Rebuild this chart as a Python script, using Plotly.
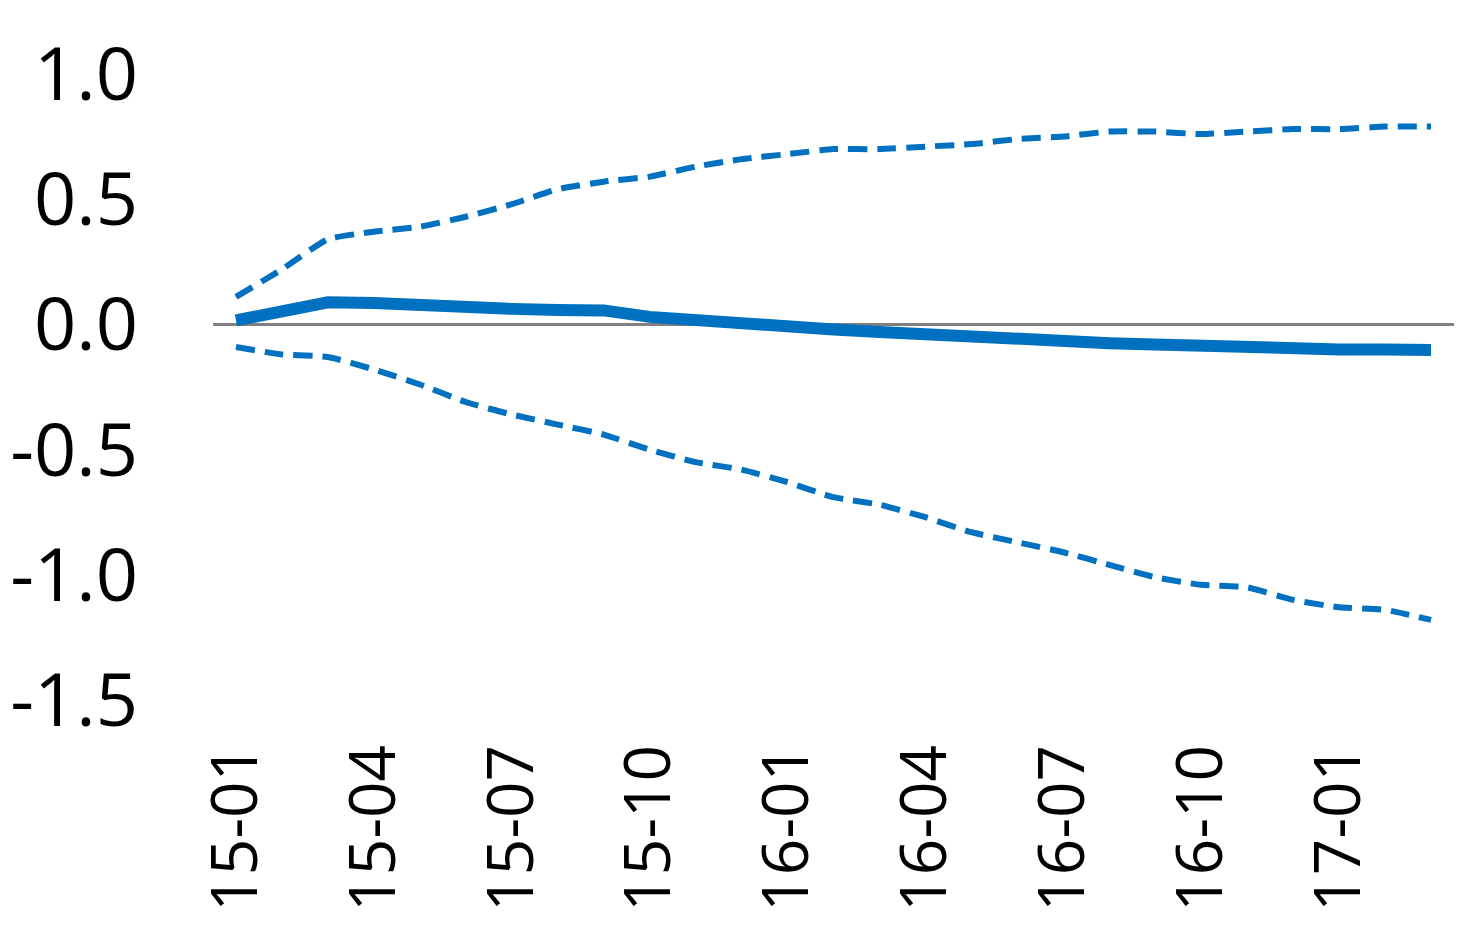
import plotly.graph_objects as go

# --- data ---
months = [
    "15-01", "15-02", "15-03", "15-04", "15-05", "15-06", "15-07", "15-08", "15-09",
    "15-10", "15-11", "15-12", "16-01", "16-02", "16-03", "16-04", "16-05", "16-06",
    "16-07", "16-08", "16-09", "16-10", "16-11", "16-12", "17-01", "17-02", "17-03",
]
central = [
    0.016, 0.052, 0.088, 0.085, 0.075, 0.060, 0.062, 0.058, 0.056,
    0.030, 0.015, 0.000, -0.012, -0.020, -0.030, -0.040, -0.050, -0.064,
    -0.070, -0.075, -0.080, -0.087, -0.093, -0.098, -0.100, -0.100, -0.102,
]
upper = [
    0.11, 0.22, 0.34, 0.37, 0.39, 0.43, 0.48, 0.54, 0.57,
    0.59, 0.63, 0.66, 0.68, 0.70, 0.70, 0.71, 0.72, 0.74,
    0.75, 0.77, 0.77, 0.76, 0.77, 0.78, 0.78, 0.79, 0.79,
]
lower = [
    -0.09, -0.12, -0.13, -0.18, -0.24, -0.31, -0.36, -0.40, -0.44,
    -0.50, -0.55, -0.58, -0.63, -0.69, -0.72, -0.77, -0.83, -0.87,
    -0.91, -0.96, -1.01, -1.04, -1.05, -1.10, -1.13, -1.14, -1.18,
]
tick_months = ["15-01", "15-04", "15-07", "15-10", "16-01", "16-04", "16-07", "16-10", "17-01"]
y_ticks = [1.0, 0.5, 0.0, -0.5, -1.0, -1.5]

BLUE = "#0070C0"
FONT = "Open Sans"

fig = go.Figure()

for band in (upper, lower):
    fig.add_trace(go.Scatter(
        x=months, y=band, mode="lines",
        line=dict(color=BLUE, width=6, dash="19px,10px", shape="spline", smoothing=0.5),
        showlegend=False, hoverinfo="skip",
    ))

fig.add_trace(go.Scatter(
    x=months, y=central, mode="lines",
    line=dict(color=BLUE, width=12),
    showlegend=False,
))

# page body adds an 8px margin, so the figure is 8px smaller and margins shifted
fig.update_layout(
    width=1474, height=940,
    margin=dict(l=205, r=28, t=66, b=248),
    paper_bgcolor="white", plot_bgcolor="white",
    font=dict(family=FONT, color="black"),
)

fig.update_xaxes(
    type="category", range=[-0.5, len(months) - 0.5],
    tickmode="array", tickvals=tick_months, ticktext=tick_months,
    tickangle=-90, tickfont=dict(size=64),
    showgrid=False, showline=False, zeroline=False, ticks="",
    ticklabelstandoff=31, automargin=False,
)

fig.update_yaxes(
    range=[-1.5, 1.0],
    tickmode="array", tickvals=y_ticks, ticktext=[f"{v:.1f}" for v in y_ticks],
    tickfont=dict(size=74),
    showgrid=False, showline=False, ticks="",
    zeroline=True, zerolinecolor="#808080", zerolinewidth=2.5,
    ticklabelstandoff=74, automargin=False,
)

fig.write_html("out.html")
